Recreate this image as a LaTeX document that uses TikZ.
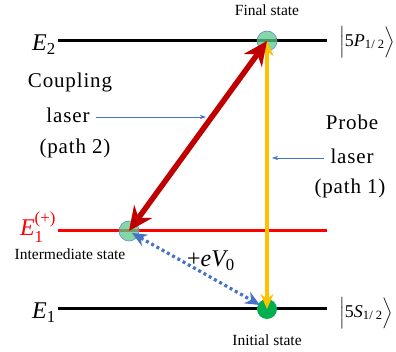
\documentclass[tikz,border=0pt]{standalone}
\usepackage{fontspec}
\setmainfont{Liberation Serif}
\newfontfamily\spacedfont[LetterSpace=4]{Liberation Serif}
\usepackage{amsmath}
\usepackage{tikz}
\usetikzlibrary{arrows.meta}
\definecolor{cdarkred}{HTML}{C00000}
\definecolor{cred}{HTML}{FF0000}
\definecolor{camber}{HTML}{FFC000}
\definecolor{cblue}{HTML}{4472C4}
\definecolor{cmint}{HTML}{5CC98A}
\definecolor{cgreen}{HTML}{00B050}
\definecolor{cedge}{HTML}{5B8FC9}

\begin{document}
\begin{tikzpicture}[x=1pt, y=-1pt,
  level/.style={line width=3pt},
  state/.style={circle, minimum size=20pt, inner sep=0pt},
  biglab/.style={font=\spacedfont\fontsize{21}{24}\selectfont},
  smalllab/.style={font=\fontsize{15.5}{18}\selectfont},
  marklab/.style={font=\fontsize{24}{26}\selectfont},
  ketlab/.style={font=\fontsize{18}{20}\selectfont, inner sep=0pt, anchor=west},
  pointer/.style={cblue, line width=0.6pt, -{Stealth[length=6pt,width=4pt]}}]

  \useasboundingbox (0,0) rectangle (396,352);

  %% Energy levels
  \coordinate (e2l) at (58,41);  \coordinate (e2r) at (327,41);
  \coordinate (eml) at (58,231); \coordinate (emr) at (327,231);
  \coordinate (e1l) at (58,309); \coordinate (e1r) at (327,309);
  \draw[level] (e2l) -- (e2r);
  \draw[level, cred] (eml) -- (emr);
  \draw[level] (e1l) -- (e1r);

  %% States
  \node[state, fill=cmint, fill opacity=0.75, draw=cedge, line width=0.6pt] (fin) at (267,41) {};
  \node[state, fill=cmint, fill opacity=0.75, draw=cedge, line width=0.6pt] (mid) at (129,231) {};
  \node[state, fill=cgreen] (ini) at (267,309) {};

  %% Lasers
  \draw[camber, line width=3.2pt, {Stealth[length=15pt,width=13pt]}-{Stealth[length=15pt,width=13pt]}]
    (fin.center) -- (ini.center);
  \draw[cdarkred, line width=5.5pt, {Stealth[length=24pt,width=22pt]}-{Stealth[length=24pt,width=22pt]}]
    (mid.center) -- (fin.center);
  \draw[cblue, line width=3.2pt, dash pattern=on 3pt off 3pt, {Stealth[length=15pt,width=13pt,line width=0pt]}-{Stealth[length=15pt,width=13pt,line width=0pt]}]
    ([shift={(3,2)}]mid.center) -- ([shift={(-7,-4)}]ini.center);

  %% Level labels
  \node[marklab] (le2) at (44,45) {$\textit{E}_{\text{2}}$};
  \node[marklab, text=cred] (lem) at (38,227) {$\textit{E}^{\text{(+)}}_{\text{1}}$};
  \node[marklab] (le1) at (44,313) {$\textit{E}_{\text{1}}$};
  \node[ketlab] (k5p) at (339,42) {$\Bigl|\text{5}\textit{P}_{\text{1/ 2}}\Bigr\rangle$};
  \node[ketlab] (k5s) at (339,313) {$\Bigl|\text{5}\textit{S}_{\text{1/ 2}}\Bigr\rangle$};
  \node[marklab] (lev) at (211,261) {$\text{+}\textit{eV}_{\text{0}}$};

  %% State labels
  \node[smalllab] (lfin) at (267,10) {Final state};
  \node[smalllab] (lmid) at (70,254) {Intermediate state};
  \node[smalllab] (lini) at (267,340) {Initial state};

  %% Laser labels
  \node[biglab] (cp1) at (70,82) {Coupling};
  \node[biglab] (cp2) at (68,115) {laser};
  \node[biglab] (cp3) at (75,148) {(path 2)};
  \node[biglab] (pr1) at (352,122) {Probe};
  \node[biglab] (pr2) at (352,156) {laser};
  \node[biglab] (pr3) at (350,188) {(path 1)};
  \coordinate (cptip) at (206,117);
  \coordinate (prtip) at (272,158);
  \draw[pointer] (cp2.east) ++(3,2) -- (cptip);
  \draw[pointer] (pr2.west) ++(-3,2) -- (prtip);

\end{tikzpicture}
\end{document}
